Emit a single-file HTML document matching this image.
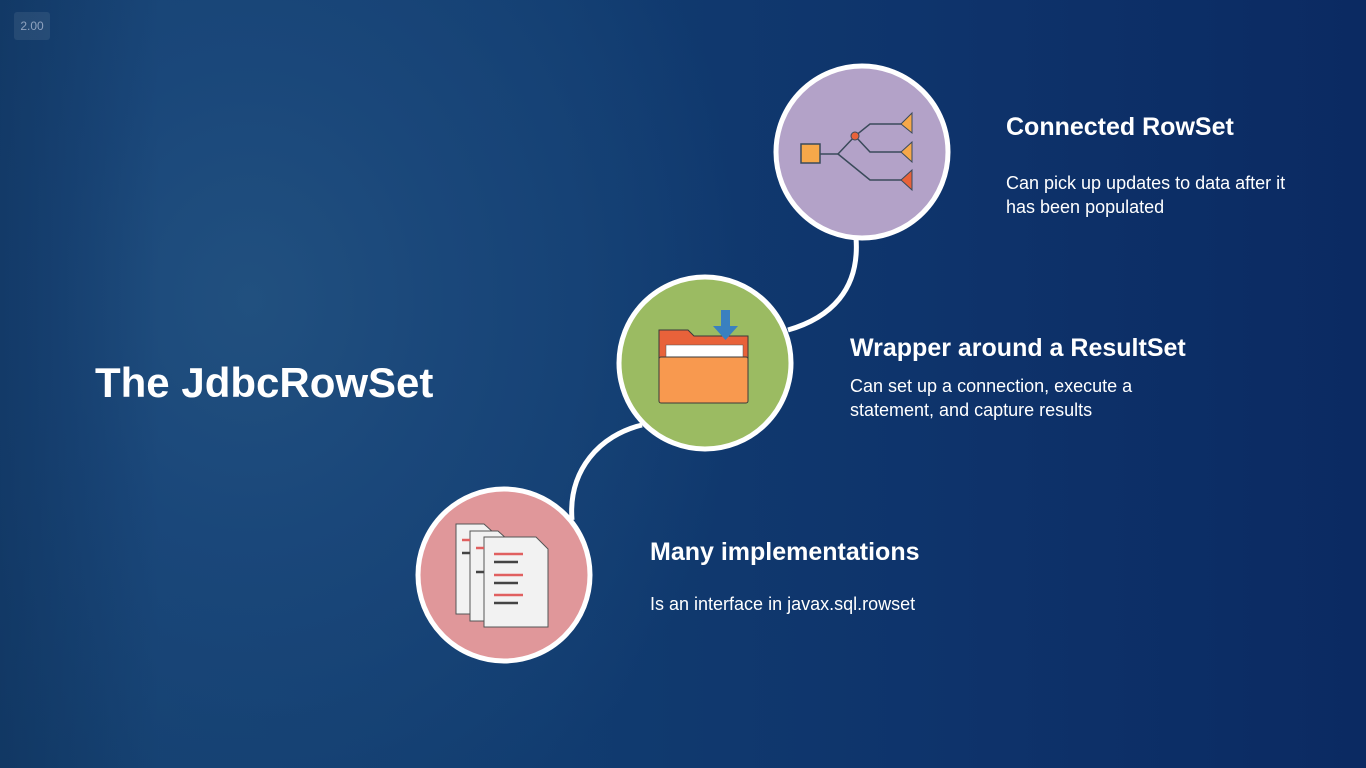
<!DOCTYPE html>
<html><head><meta charset="utf-8"><style>
html,body{margin:0;padding:0;}
body{width:1366px;height:768px;overflow:hidden;position:relative;font-family:"Liberation Sans",sans-serif;
background:radial-gradient(ellipse 500px 600px at 250px 300px,#21507f 0%,#1a477a 40%,rgba(20,60,110,0) 100%),linear-gradient(90deg,#15416f 0%,#113c70 40%,#0e336b 70%,#0b2a62 100%);}
.t{position:absolute;color:#fff;white-space:nowrap;}
.h{font-weight:bold;font-size:25px;}
.p{font-size:18px;line-height:24px;}
</style></head><body>
<div style="position:absolute;left:0;top:0;width:160px;height:768px;background:linear-gradient(90deg,rgba(10,40,80,0.4),rgba(0,0,0,0));"></div>
<div style="position:absolute;left:14px;top:12px;width:36px;height:28px;background:rgba(255,255,255,0.08);border-radius:3px;color:#8fa3bf;font-size:12px;text-align:center;line-height:28px;">2.00</div>
<div class="t" style="left:95px;top:359px;font-size:42px;font-weight:bold;">The JdbcRowSet</div>

<svg width="1366" height="768" style="position:absolute;left:0;top:0">
<path d="M856 238 C860 290 830 318 788 330" stroke="#fff" stroke-width="5" fill="none"/>
<path d="M642 425 C600 435 568 470 572 520" stroke="#fff" stroke-width="5" fill="none"/>
<circle cx="862" cy="152" r="86" fill="#b3a2c8" stroke="#fff" stroke-width="5"/>
<circle cx="705" cy="363" r="86" fill="#9bbb62" stroke="#fff" stroke-width="5"/>
<circle cx="504" cy="575" r="86" fill="#e0979a" stroke="#fff" stroke-width="5"/>
<g stroke="#3a4a5a" stroke-width="1.5" fill="none">
<line x1="820" y1="154" x2="838" y2="154"/>
<path d="M838 154 L855 136 L870 124 L905 124"/>
<path d="M855 136 L870 152 L905 152"/>
<path d="M838 154 L870 180 L905 180"/>
</g>
<rect x="801" y="144" width="19" height="19" fill="#f6a84a" stroke="#3a4a5a" stroke-width="1.5"/>
<circle cx="855" cy="136" r="4" fill="#e8623a" stroke="#3a4a5a"/>
<polygon points="912,113 901,124 912,133" fill="#f6a84a" stroke="#3a4a5a"/>
<polygon points="912,142 901,152 912,162" fill="#f6a84a" stroke="#3a4a5a"/>
<polygon points="912,170 901,180 912,190" fill="#e8623a" stroke="#3a4a5a"/>
<path d="M659 330 L688 330 L694 336 L748 336 L748 360 L659 360 Z" fill="#e8623a" stroke="#3a3a3a"/>
<rect x="666" y="345" width="77" height="12" fill="#fff" stroke="#555" stroke-width="0.5"/>
<rect x="659" y="357" width="89" height="46" rx="2" fill="#f8994f" stroke="#3a3a3a"/>
<rect x="721" y="310" width="9" height="20" fill="#3a80c0"/>
<polygon points="713,326 738,326 725.5,340" fill="#3a80c0"/>
<g stroke="#555" stroke-width="1">
<polygon points="456,524 484,524 494,533 494,614 456,614" fill="#f2f2f2"/>
<polygon points="470,531 498,531 508,540 508,621 470,621" fill="#f2f2f2"/>
<polygon points="484,537 536,537 548,549 548,627 484,627" fill="#f2f2f2"/>
</g>
<g stroke-width="2.5">
<line x1="494" y1="554" x2="523" y2="554" stroke="#e06060"/>
<line x1="494" y1="562" x2="518" y2="562" stroke="#444"/>
<line x1="494" y1="575" x2="523" y2="575" stroke="#e06060"/>
<line x1="494" y1="583" x2="518" y2="583" stroke="#444"/>
<line x1="494" y1="595" x2="523" y2="595" stroke="#e06060"/>
<line x1="494" y1="603" x2="518" y2="603" stroke="#444"/>
<line x1="462" y1="540" x2="470" y2="540" stroke="#e06060"/>
<line x1="462" y1="553" x2="470" y2="553" stroke="#444"/>
<line x1="476" y1="548" x2="484" y2="548" stroke="#e06060"/>
<line x1="476" y1="572" x2="484" y2="572" stroke="#444"/>
</g>
</svg>

<div class="t h" style="left:1006px;top:113px;">Connected RowSet</div>
<div class="t p" style="left:1006px;top:171px;">Can pick up updates to data after it<br>has been populated</div>
<div class="t h" style="left:850px;top:334px;">Wrapper around a ResultSet</div>
<div class="t p" style="left:850px;top:374px;">Can set up a connection, execute a<br>statement, and capture results</div>
<div class="t h" style="left:650px;top:538px;">Many implementations</div>
<div class="t p" style="left:650px;top:592px;">Is an interface in javax.sql.rowset</div>
</body></html>
